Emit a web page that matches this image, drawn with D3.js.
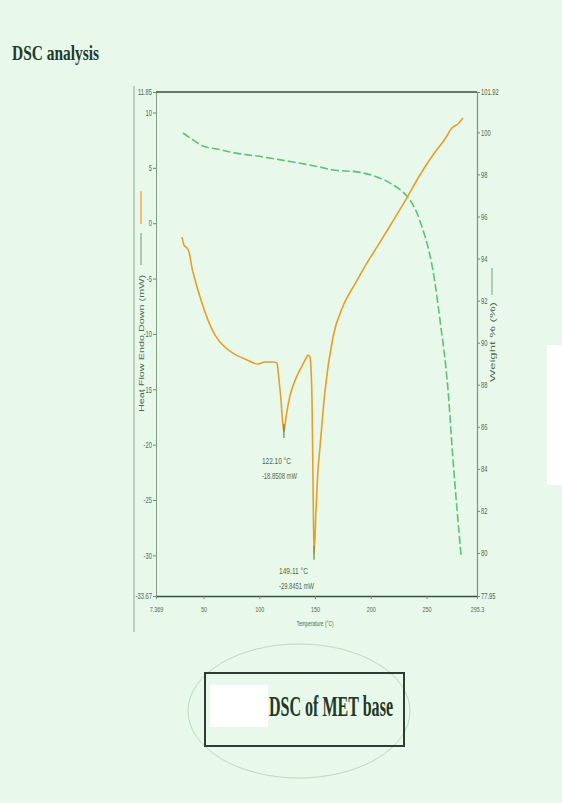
<!DOCTYPE html>
<html><head><meta charset="utf-8">
<script src="https://cdn.jsdelivr.net/npm/d3@7"></script>
<style>body{margin:0;background:#e8f8ea;} svg{display:block}</style>
</head><body><svg id="c" width="562" height="803"></svg>
<script>
// Heat flow (mW) vs temperature (°C)
const hfTemp = [30.7,32.5,35.2,37.0,39.7,42.4,48.6,54.0,60.3,69.3,76.4,87.2,98.8,105.1,112.3,115.9,
  116.8,117.7,119.5,120.4,122.1,123.9,127.5,130.2,133.8,138.3,141.9,143.7,145.5,146.4,147.3,148.2,149.11,
  150.9,152.7,154.5,159.0,166.1,175.1,185.8,194.8,206.5,217.2,230.7,244.1,255.8,266.6,272.8,278.2,282.7];
const heatFlow = [-1.25,-1.97,-2.24,-2.6,-4.05,-5.13,-7.21,-8.75,-10.1,-11.2,-11.73,-12.27,-12.72,-12.54,-12.54,-12.63,
  -13.3,-14.17,-15.97,-17.3,-18.85,-17.6,-15.6,-14.7,-13.8,-12.9,-12.2,-11.9,-12.1,-13.1,-15.97,-23.2,-29.85,
  -25.9,-22.3,-20.2,-15.1,-10.3,-7.5,-5.5,-3.9,-2.0,-0.25,2.0,4.35,6.16,7.6,8.6,8.96,9.5];
// Weight (%) vs temperature (°C)
const wtTemp = [31.6,40.6,49.5,62.1,73.7,103.3,130.2,154.5,166.1,187.6,205.6,220.1,228.9,235.2,241.4,246.8,250.4,254.9,257.6,262.1,269.3,273.8,277.4,281.0];
const weight = [99.97,99.64,99.35,99.21,99.07,98.83,98.59,98.35,98.21,98.12,97.88,97.5,97.16,96.78,96.17,95.36,94.74,93.69,92.84,91.08,87.75,84.42,82.04,79.9];
// Peaks
const peakTemp = [122.10, 149.11];
const peakHF = [-18.8508, -29.8451];
// Ticks
const xTicks = [7.369, 50, 100, 150, 200, 250, 295.3];
const yLeftTicks = [11.85, 10, 5, 0, -5, -10, -15, -20, -25, -30, -33.67];
const yRightTicks = [101.92, 100, 98, 96, 94, 92, 90, 88, 86, 84, 82, 80, 77.95];

const svg = d3.select("#c");
const x = d3.scaleLinear().domain([7.369, 295.3]).range([156, 477]);
const yL = d3.scaleLinear().domain([-33.67, 11.85]).range([596, 92]);
const yR = d3.scaleLinear().domain([77.95, 101.92]).range([596, 92]);

const txt = "#4d6b52";
function styleAxis(g, domainColor, domainWidth) {
  g.select(".domain").attr("stroke", domainColor).attr("stroke-width", domainWidth);
  g.selectAll(".tick line").attr("stroke", "#6f8f72");
  g.selectAll(".tick text").attr("fill", txt).attr("font-family", "Liberation Sans, Arial, sans-serif")
    .attr("font-size", 8.5).attr("transform", "scale(0.68,1)");
}

// right white patch
svg.append("rect").attr("x", 547).attr("y", 345).attr("width", 15).attr("height", 140).attr("fill", "#ffffff");

// outer left line
svg.append("line").attr("x1", 134).attr("x2", 134).attr("y1", 86).attr("y2", 632).attr("stroke", "#8aa88c").attr("stroke-width", 1);

// axes
const gL = svg.append("g").attr("transform", "translate(156,0)")
  .call(d3.axisLeft(yL).tickValues(yLeftTicks).tickSize(3).tickSizeOuter(0).tickFormat(d => String(d)));
styleAxis(gL, "#7f9f82", 1);
const gR = svg.append("g").attr("transform", "translate(477,0)")
  .call(d3.axisRight(yR).tickValues(yRightTicks).tickSize(3).tickSizeOuter(0).tickFormat(d => String(d)));
styleAxis(gR, "#6f9f72", 1.2);
const gB = svg.append("g").attr("transform", "translate(0,596)")
  .call(d3.axisBottom(x).tickValues(xTicks).tickSize(3).tickSizeOuter(0).tickPadding(7).tickFormat(d => String(d)));
styleAxis(gB, "#34533c", 1.6);
gB.selectAll(".tick text").attr("font-size", 8);

// top line
svg.append("line").attr("x1", x(7.369)).attr("x2", x(295.3)).attr("y1", yL(11.85)).attr("y2", yL(11.85))
  .attr("stroke", "#34533c").attr("stroke-width", 1.6);

// curves
const hfData = hfTemp.map((t, i) => [t, heatFlow[i]]);
const wtData = wtTemp.map((t, i) => [t, weight[i]]);
svg.append("path").datum(wtData)
  .attr("d", d3.line().x(d => x(d[0])).y(d => yR(d[1])).curve(d3.curveMonotoneX))
  .attr("fill", "none").attr("stroke", "#5cc27a").attr("stroke-width", 1.6).attr("stroke-dasharray", "8,3");
svg.append("path").datum(hfData)
  .attr("d", d3.line().x(d => x(d[0])).y(d => yL(d[1])).curve(d3.curveMonotoneX))
  .attr("fill", "none").attr("stroke", "#e6a026").attr("stroke-width", 1.6);

// peak markers and labels
const labelDx = [-22, -35];
peakTemp.forEach((t, i) => {
  svg.append("line").attr("x1", x(t)).attr("x2", x(t)).attr("y1", yL(peakHF[i]) - 8).attr("y2", yL(peakHF[i]) + 6)
    .attr("stroke", "#6a8a3a").attr("stroke-width", 1.2);
  const lx = x(t) + labelDx[i], ly = yL(peakHF[i]) + 32 - i * 12;
  svg.append("text").attr("x", lx).attr("y", ly).text(t.toFixed(2) + " °C")
    .attr("fill", txt).attr("font-family", "Liberation Sans, Arial, sans-serif").attr("font-size", 8.5)
    .attr("textLength", 29).attr("lengthAdjust", "spacingAndGlyphs");
  svg.append("text").attr("x", lx).attr("y", ly + 15).text(peakHF[i].toFixed(4) + " mW")
    .attr("fill", txt).attr("font-family", "Liberation Sans, Arial, sans-serif").attr("font-size", 8.5)
    .attr("textLength", 35).attr("lengthAdjust", "spacingAndGlyphs");
});

// axis titles
svg.append("text").attr("x", 315).attr("y", 626).attr("text-anchor", "middle").text("Temperature (°C)")
  .attr("fill", txt).attr("font-family", "Liberation Sans, Arial, sans-serif").attr("font-size", 7)
  .attr("textLength", 37).attr("lengthAdjust", "spacingAndGlyphs");
svg.append("line").attr("x1", 141).attr("x2", 141).attr("y1", 191).attr("y2", 224).attr("stroke", "#e6a026").attr("stroke-width", 1.2);
svg.append("line").attr("x1", 141).attr("x2", 141).attr("y1", 233).attr("y2", 265).attr("stroke", "#7fa882").attr("stroke-width", 1.2);
svg.append("text").attr("transform", "translate(144,412) rotate(-90)").text("Heat Flow Endo Down (mW)")
  .attr("fill", txt).attr("font-family", "Liberation Sans, Arial, sans-serif").attr("font-size", 7)
  .attr("textLength", 137).attr("lengthAdjust", "spacingAndGlyphs");
svg.append("line").attr("x1", 492).attr("x2", 492).attr("y1", 268).attr("y2", 295).attr("stroke", "#7fb886").attr("stroke-width", 1.2);
svg.append("text").attr("transform", "translate(495,382) rotate(-90)").text("Weight % (%)")
  .attr("fill", txt).attr("font-family", "Liberation Sans, Arial, sans-serif").attr("font-size", 7)
  .attr("textLength", 80).attr("lengthAdjust", "spacingAndGlyphs");

// page title
svg.append("text").attr("x", 12).attr("y", 60).text("DSC analysis")
  .attr("fill", "#233a29").attr("font-family", "Liberation Serif, Times New Roman, serif").attr("font-weight", "bold")
  .attr("font-size", 22).attr("textLength", 87).attr("lengthAdjust", "spacingAndGlyphs");

// caption ellipse and box
svg.append("ellipse").attr("cx", 299).attr("cy", 711).attr("rx", 111).attr("ry", 67)
  .attr("fill", "none").attr("stroke", "#b7dcbd").attr("stroke-width", 1);
svg.append("rect").attr("x", 205).attr("y", 673).attr("width", 199).attr("height", 73)
  .attr("fill", "none").attr("stroke", "#2d3d32").attr("stroke-width", 2);
svg.append("rect").attr("x", 210).attr("y", 685).attr("width", 58).attr("height", 42).attr("fill", "#ffffff");
svg.append("text").attr("x", 269).attr("y", 716).text("DSC of MET base")
  .attr("fill", "#223827").attr("font-family", "Liberation Serif, Times New Roman, serif").attr("font-weight", "bold")
  .attr("font-size", 29).attr("textLength", 124).attr("lengthAdjust", "spacingAndGlyphs");
</script></body></html>
